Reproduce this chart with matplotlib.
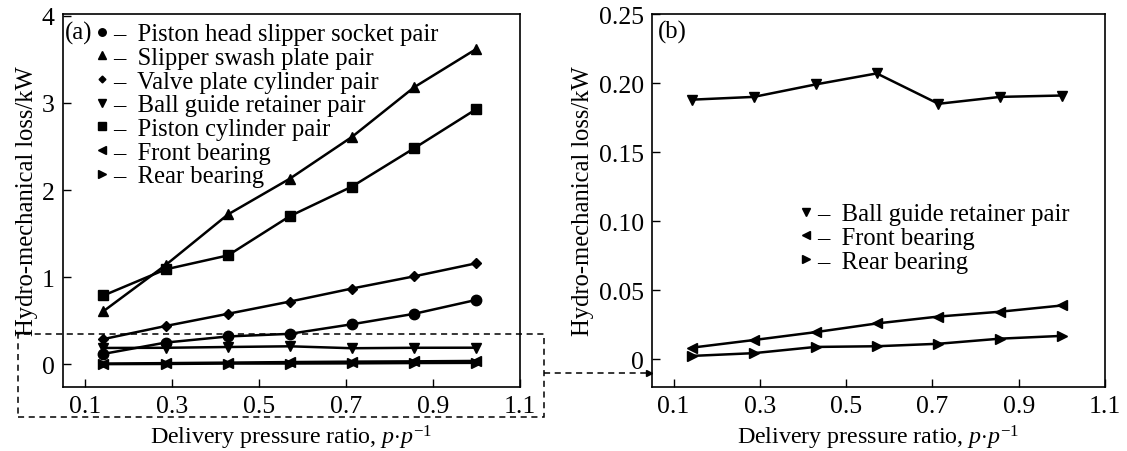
import matplotlib
matplotlib.use("Agg")
import matplotlib.pyplot as plt
from matplotlib.patches import Rectangle
from matplotlib.lines import Line2D

plt.rcParams['font.family'] = ['Liberation Serif', 'DejaVu Serif']
plt.rcParams['mathtext.fontset'] = 'custom'
plt.rcParams['mathtext.it'] = 'Liberation Serif:italic'
plt.rcParams['mathtext.rm'] = 'Liberation Serif'

# pressure ratio (same for every series)
ratio = [0.143, 0.286, 0.429, 0.571, 0.714, 0.857, 1.0]

# losses, kW
piston_head = [0.12, 0.25, 0.32, 0.35, 0.46, 0.58, 0.74]
slipper_swash = [0.61, 1.14, 1.72, 2.13, 2.61, 3.18, 3.62]
valve_plate = [0.29, 0.44, 0.58, 0.72, 0.87, 1.01, 1.16]
ball_guide = [0.188, 0.190, 0.199, 0.207, 0.185, 0.190, 0.191]
piston_cyl = [0.79, 1.09, 1.25, 1.70, 2.04, 2.48, 2.93]
front_bearing = [0.0085, 0.014, 0.0197, 0.026, 0.031, 0.0345, 0.039]
rear_bearing = [0.0025, 0.0045, 0.009, 0.0095, 0.0113, 0.015, 0.017]

names = ["Piston head slipper socket pair", "Slipper swash plate pair",
         "Valve plate cylinder pair", "Ball guide retainer pair",
         "Piston cylinder pair", "Front bearing", "Rear bearing"]
series = [piston_head, slipper_swash, valve_plate, ball_guide,
          piston_cyl, front_bearing, rear_bearing]
markers = ['o', '^', 'D', 'v', 's', '<', '>']
msizes = [7.5, 7.5, 4.8, 7.5, 7.5, 7.5, 7.5]

W, H = 1127, 452
fig = plt.figure(figsize=(W / 100, H / 100), dpi=100)
ax1 = fig.add_axes([63 / W, 1 - 388 / H, (520 - 63) / W, (388 - 15) / H])
ax2 = fig.add_axes([652 / W, 1 - 388 / H, (1105 - 652) / W, (388 - 15) / H])

fs = 17.7    # legend
fs_tick = 18.5
fs_ylab = 17.7
fs_xlab = 17.3

def style(ax):
    ax.tick_params(direction='in', length=6, width=1.0, labelsize=fs_tick,
                   top=False, right=False, pad=6)
    for s in ax.spines.values():
        s.set_linewidth(1.2)
    ax.set_xlim(0.05, 1.1)
    ax.set_xticks([0.1, 0.3, 0.5, 0.7, 0.9, 1.1])
    ax.set_xticklabels(['0.1', '0.3', '0.5', '0.7', '0.9', '1.1'])
    ax.set_xlabel(r'Delivery pressure ratio, $p{\cdot}p^{-1}$', fontsize=fs_xlab, labelpad=4)
    ax.set_ylabel('Hydro-mechanical loss/kW', fontsize=fs_ylab, labelpad=3)

leg_kw = dict(frameon=False, fontsize=fs, handlelength=0.6, handletextpad=0.15,
              labelspacing=0.06, borderaxespad=0, borderpad=0, loc='upper left')

def leg_handle(m, ms, name):
    return Line2D([], [], color='black', ls='none', marker=m, ms=ms * 0.72,
                  label='–  ' + name)

# (a) all friction pairs
handles1 = []
for vals, name, m, ms in zip(series, names, markers, msizes):
    ax1.plot(ratio, vals, color='black', lw=1.8, marker=m, ms=ms)
    handles1.append(leg_handle(m, ms, name))
style(ax1)
ax1.set_ylim(-0.26, 4.02)
ax1.set_yticks([0, 1, 2, 3, 4])
ax1.set_yticklabels(['0', '1', '2', '3', '4'])
ax1.text(0.004, 0.95, '(a)', transform=ax1.transAxes, fontsize=fs, va='center')
ax1.legend(handles=handles1, bbox_to_anchor=(0.069, 0.976), **leg_kw)

# (b) the small ones
handles2 = []
for i in (3, 5, 6):
    ax2.plot(ratio, series[i], color='black', lw=1.8, marker=markers[i], ms=msizes[i])
    handles2.append(leg_handle(markers[i], msizes[i], names[i]))
style(ax2)
ax2.set_ylim(-0.02, 0.25)
ax2.set_yticks([0, 0.05, 0.10, 0.15, 0.20, 0.25])
ax2.set_yticklabels(['0', '0.05', '0.10', '0.15', '0.20', '0.25'])
ax2.text(0.013, 0.952, '(b)', transform=ax2.transAxes, fontsize=fs, va='center')
ax2.legend(handles=handles2, bbox_to_anchor=(0.324, 0.493), **leg_kw)

# dashed zoom box and arrow
fig.patches.append(Rectangle((18 / W, 1 - 418 / H), (544 - 18) / W, (418 - 335) / H,
                             transform=fig.transFigure, fill=False, ls=(0, (4, 3)),
                             lw=1.1, ec='black'))
fig.add_artist(plt.Line2D([544 / W, 646 / W], [1 - 374 / H, 1 - 374 / H],
                          transform=fig.transFigure, ls=(0, (4, 3)), lw=1.1, color='black'))
fig.add_artist(plt.Line2D([649 / W], [1 - 374 / H], transform=fig.transFigure,
                          marker='>', ms=5, color='black', ls='none'))

fig.savefig('out.png', dpi=100)
